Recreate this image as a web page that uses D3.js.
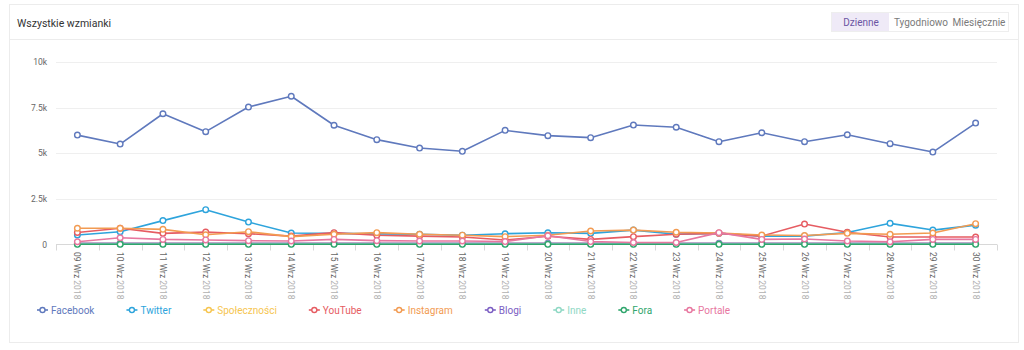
<!DOCTYPE html>
<html>
<head>
<meta charset="utf-8">
<script src="https://cdn.jsdelivr.net/npm/d3@7"></script>
<style>
  html, body { margin: 0; padding: 0; background: #fff; }
  svg { display: block; font-family: Roboto, "Noto Sans", sans-serif; }
</style>
</head>
<body>
<svg id="chart" width="1024" height="350"></svg>
<script>
// Daily mention counts per source, 09–30 Sep 2018
const days = ["09","10","11","12","13","14","15","16","17","18","19","20","21","22","23","24","25","26","27","28","29","30"];
const monthLabel = "Wrz";
const yearLabel = "2018";

const facebook     = [5990,5500,7160,6180,7530,8120,6530,5740,5280,5100,6250,5960,5850,6540,6420,5630,6120,5630,6010,5520,5060,6650];
const twitter      = [510,690,1300,1900,1220,620,600,570,550,500,580,630,600,780,550,600,450,450,650,1150,780,1050];
const spolecznosci = [40,40,40,40,40,40,40,40,40,40,40,40,40,40,40,40,40,40,40,40,40,40];
const youtube      = [650,880,600,670,580,450,640,500,450,400,240,440,270,420,550,600,450,1110,660,400,400,400];
const instagram    = [880,880,820,520,690,420,550,640,550,500,420,500,730,780,660,620,510,480,600,550,620,1130];
const blogi        = [60,60,60,60,60,60,60,60,60,60,60,60,60,60,60,60,60,60,60,60,60,60];
const inne         = [20,20,20,20,20,20,20,20,20,20,20,20,20,20,20,20,20,20,20,20,20,20];
const fora         = [0,0,0,0,0,0,0,0,0,0,0,0,0,0,0,0,0,0,0,0,0,0];
const portale      = [140,360,270,240,200,180,270,200,180,180,150,470,150,100,100,640,270,290,180,140,270,270];

const seriesNames  = ["Facebook","Twitter","Społeczności","YouTube","Instagram","Blogi","Inne","Fora","Portale"];
const seriesValues = [facebook, twitter, spolecznosci, youtube, instagram, blogi, inne, fora, portale];
const seriesColors = ["#5f79bd","#2ea4dc","#f6c550","#e65c62","#f29b52","#7b5ec3","#8fd8c4","#30a66d","#e7779f"];

const yTicks = [0, 2500, 5000, 7500, 10000];
const yTickLabels = ["0","2.5k","5k","7.5k","10k"];

const rangeButtons = ["Dzienne","Tygodniowo","Miesięcznie"];

const svg = d3.select("#chart");

// card frame
svg.append("rect")
  .attr("x", 9.5).attr("y", 4.5).attr("width", 1009).attr("height", 338)
  .attr("fill", "#fff").attr("stroke", "#ececec");
svg.append("line")
  .attr("x1", 10).attr("x2", 1018).attr("y1", 39.5).attr("y2", 39.5)
  .attr("stroke", "#ececec");

svg.append("text")
  .attr("x", 17).attr("y", 26.5)
  .attr("font-size", 10.5).attr("fill", "#333")
  .text("Wszystkie wzmianki");

// period switch
const btnG = svg.append("g");
btnG.append("rect")
  .attr("x", 831.5).attr("y", 12.5).attr("width", 177).attr("height", 19)
  .attr("fill", "#fff").attr("stroke", "#eeeeee");
btnG.append("rect")
  .attr("x", 832).attr("y", 13).attr("width", 57).attr("height", 18)
  .attr("fill", "#efeaf7");
const btnX = [861, 921, 979];
rangeButtons.forEach((b, i) => {
  btnG.append("text")
    .attr("x", btnX[i]).attr("y", 25.5)
    .attr("text-anchor", "middle")
    .attr("font-size", 10)
    .attr("fill", i === 0 ? "#6b55a3" : "#7a7a7a")
    .text(b);
});

// scales
const x = d3.scaleBand().domain(days).range([56, 997]);
const cx = d => x(d) + x.bandwidth() / 2;
const y = d3.scaleLinear().domain([0, 10000]).range([244.3, 62]);

// horizontal grid + y labels
const yAxis = d3.axisLeft(y)
  .tickValues(yTicks)
  .tickSize(0)
  .tickPadding(9)
  .tickFormat((d, i) => yTickLabels[i]);
const yg = svg.append("g").attr("transform", "translate(56,0)").call(yAxis);
yg.select(".domain").remove();
yg.selectAll("text").attr("font-size", 8.5).attr("fill", "#666").attr("font-family", "Roboto, sans-serif");

svg.append("g").selectAll("line")
  .data(yTicks.filter(v => v > 0))
  .join("line")
  .attr("x1", 56).attr("x2", 997)
  .attr("y1", d => Math.round(y(d)) + 0.5).attr("y2", d => Math.round(y(d)) + 0.5)
  .attr("stroke", "#efefef");

// x axis baseline + boundary ticks
const baseY = Math.round(y(0)) + 0.5;
svg.append("line")
  .attr("x1", 56).attr("x2", 997).attr("y1", baseY).attr("y2", baseY)
  .attr("stroke", "#d8d8d8");
const bounds = days.map(d => x(d)).concat([x.range()[1]]);
svg.append("g").selectAll("line")
  .data(bounds)
  .join("line")
  .attr("x1", d => Math.round(d) + 0.5).attr("x2", d => Math.round(d) + 0.5)
  .attr("y1", baseY).attr("y2", baseY + 6)
  .attr("stroke", "#d8d8d8");

// rotated date labels
const xl = svg.append("g").selectAll("text")
  .data(days)
  .join("text")
  .attr("transform", d => `translate(${cx(d)},252) rotate(90)`)
  .attr("dy", "0.35em")
  .attr("font-size", 8.5);
xl.append("tspan").attr("fill", "#666").text(d => `${d} ${monthLabel} `);
xl.append("tspan").attr("fill", "#b0b0b0").text(yearLabel);

// series
const line = d3.line().x((v, i) => cx(days[i])).y(v => y(v));
seriesValues.forEach((vals, s) => {
  const g = svg.append("g");
  g.append("path")
    .attr("d", line(vals))
    .attr("fill", "none")
    .attr("stroke", seriesColors[s])
    .attr("stroke-width", 1.6)
    .attr("stroke-linejoin", "round");
  g.selectAll("circle")
    .data(vals)
    .join("circle")
    .attr("cx", (v, i) => cx(days[i]))
    .attr("cy", v => y(v))
    .attr("r", 2.8)
    .attr("fill", "#fff")
    .attr("stroke", seriesColors[s])
    .attr("stroke-width", 1.4);
});

// legend
const legend = svg.append("g");
let lx = 37;
const ly = 310;
seriesNames.forEach((name, s) => {
  const item = legend.append("g").attr("transform", `translate(${lx},${ly})`);
  item.append("line").attr("x1", 0).attr("x2", 11).attr("y1", 0).attr("y2", 0)
    .attr("stroke", seriesColors[s]).attr("stroke-width", 1.6);
  item.append("circle").attr("cx", 5.5).attr("cy", 0).attr("r", 2.5)
    .attr("fill", "#fff").attr("stroke", seriesColors[s]).attr("stroke-width", 1.4);
  const t = item.append("text").attr("x", 14).attr("y", 0).attr("dy", "0.35em")
    .attr("font-size", 10).attr("fill", seriesColors[s]).text(name);
  const w = t.node().getComputedTextLength();
  lx += 14 + w + 32;
});
</script>
</body>
</html>
